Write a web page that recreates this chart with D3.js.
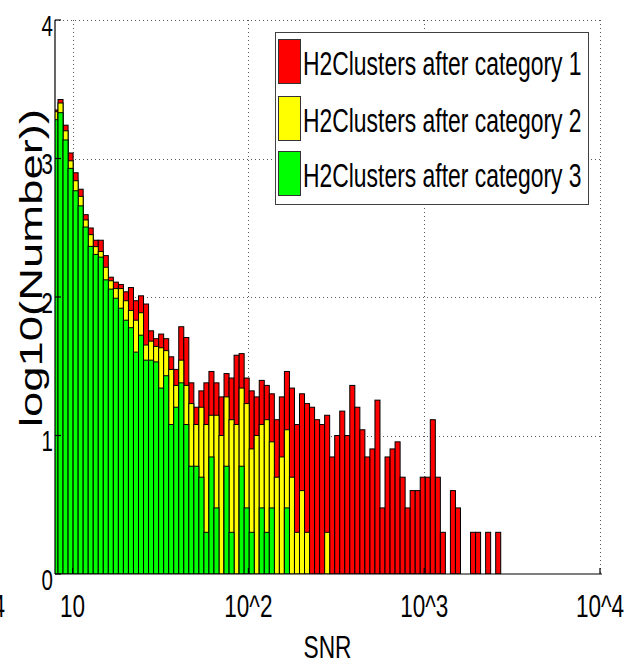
<!DOCTYPE html>
<html>
<head>
<meta charset="utf-8">
<script src="https://cdn.jsdelivr.net/npm/d3@7"></script>
<style>
  html, body { margin: 0; padding: 0; background: #fff; }
  svg { display: block; }
</style>
</head>
<body>
<script>
// Histogram of log10(SNR): equal-width bins in log space
const binLo = 0.8885;          // log10(SNR) of first bin edge
const binHi = 3.4353;          // log10(SNR) of last bin edge
const binCount = 89;

// Cluster counts per bin after each category cut
const countsCat1 = [2239, 2667, 1740, 1096, 789, 600, 393, 315, 257, 257,
  199, 139, 128, 123, 109, 117, 94, 102, 89, 57,
  50, 54, 50, 37, 30, 61, 51, 24, 16, 21,
  24, 29, 24, 19, 28, 26, 38, 39, 26, 21,
  19, 25, 23, 20, 13, 19, 29, 22, 12, 20,
  17, 16, 13, 12, 14, 7, 10, 15, 10, 23,
  16, 11, 7, 8, 18, 3, 7, 8, 9, 5,
  3, 4, 4, 5, 5, 13, 5, 2, 0, 4,
  3, 0, 0, 2, 2, 0, 2, 0, 2];
const countsCat2 = [2178, 2516, 1585, 962, 691, 533, 360, 282, 231, 213,
  164, 131, 115, 115, 94, 80, 68, 77, 45, 48,
  44, 43, 41, 30, 23, 35, 23, 17, 12, 16,
  12, 14, 14, 10, 19, 13, 12, 22, 17, 8,
  10, 12, 13, 9, 5, 7, 11, 5, 2, 4,
  2, 0, 0, 0, 2, 0, 0, 0, 0, 0,
  0, 0, 0, 0, 0, 0, 0, 0, 0, 0,
  0, 0, 0, 0, 0, 0, 0, 0, 0, 0,
  0, 0, 0, 0, 0, 0, 0, 0, 0];
const countsCat3 = [1906, 2142, 1361, 849, 585, 455, 320, 232, 203, 194,
  133, 114, 98, 83, 68, 60, 40, 53, 35, 35,
  34, 22, 27, 12, 16, 24, 12, 6, 6, 5,
  2, 7, 3, 0, 6, 2, 0, 6, 3, 2,
  0, 3, 2, 3, 0, 0, 3, 0, 0, 0,
  0, 0, 0, 0, 0, 0, 0, 0, 0, 0,
  0, 0, 0, 0, 0, 0, 0, 0, 0, 0,
  0, 0, 0, 0, 0, 0, 0, 0, 0, 0,
  0, 0, 0, 0, 0, 0, 0, 0, 0];

const seriesNames = ["H2Clusters after category 1",
                     "H2Clusters after category 2",
                     "H2Clusters after category 3"];
const seriesColors = ["#ff0000", "#ffff00", "#00ff00"];

const xTickValues = [10, 100, 1000, 10000];
const xTickLabels = ["10", "10^2", "10^3", "10^4"];
const yTickValues = [0, 1, 2, 3, 4];
const xTitle = "SNR";
const yTitle = "log10(Number))";

// ---- layout ----
const W = 625, H = 667;
const plot = { left: 55, right: 600, top: 20, bottom: 574 };
const STRETCH = 1.42;   // tall, narrow lettering
const FONT = "'Liberation Sans', Arial, Helvetica, sans-serif";

const svg = d3.select("body").append("svg")
  .attr("width", W).attr("height", H)
  .attr("viewBox", `0 0 ${W} ${H}`);

const x = d3.scaleLog().domain([Math.pow(10, 0.9), 1e4]).range([plot.left, plot.right]);
const y = d3.scaleLinear().domain([0, 4]).range([plot.bottom, plot.top]);

const step = (binHi - binLo) / binCount;
const bins = d3.range(binCount).map(i => ({
  x0: Math.pow(10, binLo + i * step),
  x1: Math.pow(10, binLo + (i + 1) * step)
}));

svg.append("defs").append("clipPath").attr("id", "plotClip")
  .append("rect")
  .attr("x", plot.left).attr("y", plot.top - 2)
  .attr("width", plot.right - plot.left + 2).attr("height", plot.bottom - plot.top + 2);

// ---- grid (dotted) ----
const grid = svg.append("g").attr("stroke", "#5a5a5a").attr("stroke-width", 1)
  .attr("stroke-dasharray", "1,3");
grid.selectAll("line.gx").data(xTickValues).join("line")
  .attr("x1", d => Math.round(x(d)) + 0.5).attr("x2", d => Math.round(x(d)) + 0.5)
  .attr("y1", plot.top).attr("y2", plot.bottom);
grid.selectAll("line.gy").data(yTickValues.filter(d => d > 0)).join("line")
  .attr("y1", d => Math.round(y(d)) + 0.5).attr("y2", d => Math.round(y(d)) + 0.5)
  .attr("x1", plot.left).attr("x2", plot.right);

// ---- overlapping histograms, drawn category 1 first ----
const bars = svg.append("g").attr("clip-path", "url(#plotClip)");
[countsCat1, countsCat2, countsCat3].forEach((counts, s) => {
  bars.append("g")
    .selectAll("rect")
    .data(bins.map((b, i) => ({ ...b, n: counts[i] })).filter(d => d.n > 0))
    .join("rect")
    .attr("x", d => x(d.x0))
    .attr("width", d => x(d.x1) - x(d.x0))
    .attr("y", d => y(Math.log10(d.n)))
    .attr("height", d => y(0) - y(Math.log10(d.n)))
    .attr("fill", seriesColors[s])
    .attr("stroke", "#000")
    .attr("stroke-width", 1);
});

// ---- axes ----
const axes = svg.append("g").attr("stroke", "#000").attr("stroke-width", 1.2);
axes.append("line").attr("x1", plot.left).attr("x2", plot.left)
  .attr("y1", plot.top).attr("y2", plot.bottom);
axes.append("line").attr("x1", plot.left).attr("x2", plot.right + 2)
  .attr("y1", plot.bottom).attr("y2", plot.bottom);
axes.selectAll("line.ty").data(yTickValues).join("line")
  .attr("x1", plot.left).attr("x2", plot.left + 6)
  .attr("y1", d => y(d)).attr("y2", d => y(d));
axes.selectAll("line.tx").data(xTickValues).join("line")
  .attr("x1", d => x(d)).attr("x2", d => x(d))
  .attr("y1", plot.bottom).attr("y2", plot.bottom - 6);

// stretched text helper
function label(parent, tx, ty, str, size, anchor, rotate) {
  const g = parent.append("g")
    .attr("transform", `translate(${tx},${ty}) scale(1,${STRETCH})` + (rotate ? ` rotate(${rotate})` : ""));
  g.append("text")
    .attr("text-anchor", anchor)
    .attr("font-family", FONT)
    .attr("font-size", size)
    .attr("fill", "#000")
    .text(str);
  return g;
}

const texts = svg.append("g");
yTickValues.forEach(v => label(texts, plot.left - 2, y(v) + 15.5, String(v), 20.5, "end"));
xTickValues.forEach((v, i) => label(texts, x(v), 617, xTickLabels[i], 22.5, "middle"));
// label of the neighbouring panel's last tick, cut at the page edge
label(texts, -19, 617, "10^4", 22.5, "middle");
label(texts, (plot.left + plot.right) / 2, 658, xTitle, 22.7, "middle");
label(texts, 42, 268, yTitle, 32, "middle", -90);

// ---- legend ----
const legend = svg.append("g");
legend.append("rect")
  .attr("x", 275.5).attr("y", 32.5).attr("width", 313).attr("height", 172)
  .attr("fill", "#fff").attr("stroke", "#404040").attr("stroke-width", 1);
const swatchTop = [39, 96, 151];
seriesNames.forEach((name, i) => {
  legend.append("rect")
    .attr("x", 278.5).attr("y", swatchTop[i] + 0.5).attr("width", 22).attr("height", 44)
    .attr("fill", seriesColors[i]).attr("stroke", "#333").attr("stroke-width", 1);
  label(legend, 303, swatchTop[i] + 36, name, 22.9, "start");
});
</script>
</body>
</html>
